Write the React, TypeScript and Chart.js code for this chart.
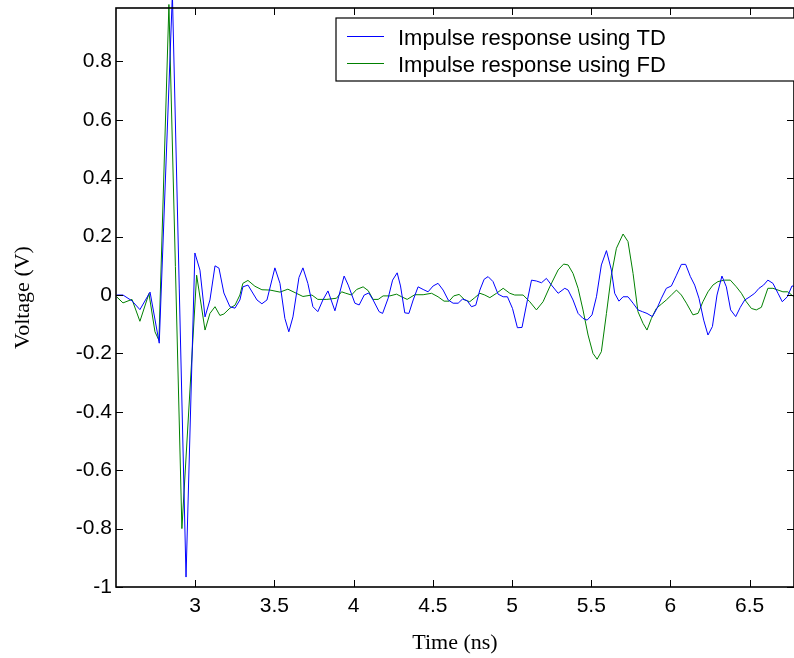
import React, { useEffect, useRef } from 'react';
import { Chart, registerables } from 'chart.js';

Chart.register(...registerables);

// ---- Data ----
const tdTime = [
  2.504, 2.544, 2.601, 2.651, 2.715, 2.773, 2.856, 2.942, 2.998, 3.030,
  3.062, 3.093, 3.125, 3.150, 3.181, 3.219, 3.251, 3.282, 3.301, 3.333,
  3.390, 3.421, 3.453, 3.503, 3.535, 3.566, 3.591, 3.617, 3.655, 3.680,
  3.711, 3.743, 3.774, 3.806, 3.838, 3.882, 3.940, 3.966, 4.008, 4.035,
  4.067, 4.096, 4.123, 4.161, 4.183, 4.218, 4.246, 4.275, 4.296, 4.323,
  4.349, 4.376, 4.407, 4.439, 4.470, 4.502, 4.533, 4.565, 4.597, 4.628,
  4.660, 4.687, 4.716, 4.744, 4.771, 4.797, 4.824, 4.849, 4.880, 4.912,
  4.944, 4.971, 5.003, 5.034, 5.063, 5.091, 5.123, 5.154, 5.186, 5.217,
  5.249, 5.291, 5.333, 5.354, 5.385, 5.417, 5.448, 5.474, 5.505, 5.533,
  5.564, 5.596, 5.627, 5.648, 5.675, 5.701, 5.732, 5.764, 5.795, 5.823,
  5.852, 5.886, 5.915, 5.943, 5.974, 6.006, 6.038, 6.069, 6.096, 6.126,
  6.153, 6.180, 6.210, 6.237, 6.265, 6.294, 6.325, 6.353, 6.380, 6.412,
  6.441, 6.469, 6.496, 6.532, 6.559, 6.588, 6.615, 6.647, 6.679, 6.706,
  6.738, 6.767, 6.779,
];
const tdVolt = [
  0.0, 0.0, -0.02, -0.05, 0.01, -0.165, 1.03, -0.966, 0.144, 0.085,
  -0.075, -0.017, 0.1, 0.092, 0.007, -0.04, -0.045, -0.017, 0.028, 0.034,
  -0.017, -0.03, -0.017, 0.093, 0.04, -0.08, -0.126, -0.075, 0.06, 0.093,
  0.04, -0.04, -0.057, -0.017, 0.014, -0.054, 0.065, 0.034, -0.028, -0.034,
  0.0, 0.007, -0.017, -0.057, -0.063, -0.011, 0.051, 0.076, 0.031, -0.061,
  -0.063, -0.017, 0.028, 0.019, 0.011, 0.031, 0.04, 0.017, -0.017, -0.028,
  -0.028, -0.014, -0.019, -0.04, -0.035, 0.017, 0.054, 0.063, 0.046, 0.003,
  -0.006, -0.006, -0.046, -0.112, -0.111, -0.034, 0.051, 0.048, 0.042, 0.057,
  0.034, 0.006, 0.023, 0.017, -0.017, -0.063, -0.08, -0.086, -0.068, -0.006,
  0.103, 0.152, 0.086, 0.006, -0.021, -0.006, -0.006, -0.028, -0.051, -0.057,
  -0.063, -0.074, -0.046, -0.011, 0.023, 0.031, 0.068, 0.105, 0.105, 0.063,
  0.034, -0.011, -0.086, -0.137, -0.108, 0.0, 0.065, 0.028, -0.051, -0.074,
  -0.042, -0.017, -0.008, 0.006, 0.023, 0.034, 0.051, 0.04, 0.006, -0.023,
  -0.006, 0.031, 0.03,
];

const fdTime = [
  2.504, 2.544, 2.601, 2.651, 2.708, 2.746, 2.771, 2.834, 2.916, 3.009,
  3.062, 3.093, 3.125, 3.156, 3.181, 3.219, 3.251, 3.282, 3.301, 3.333,
  3.377, 3.421, 3.472, 3.535, 3.585, 3.642, 3.680, 3.737, 3.774, 3.831,
  3.892, 3.924, 3.951, 3.987, 4.019, 4.060, 4.092, 4.123, 4.155, 4.186,
  4.229, 4.271, 4.303, 4.338, 4.386, 4.439, 4.492, 4.533, 4.571, 4.603,
  4.632, 4.666, 4.702, 4.733, 4.765, 4.797, 4.828, 4.860, 4.902, 4.944,
  4.986, 5.017, 5.070, 5.112, 5.154, 5.196, 5.238, 5.291, 5.326, 5.354,
  5.385, 5.417, 5.448, 5.480, 5.511, 5.537, 5.564, 5.596, 5.627, 5.659,
  5.701, 5.732, 5.764, 5.795, 5.827, 5.852, 5.880, 5.911, 5.943, 5.974,
  6.006, 6.038, 6.069, 6.101, 6.142, 6.174, 6.205, 6.237, 6.268, 6.300,
  6.342, 6.378, 6.416, 6.448, 6.479, 6.511, 6.542, 6.574, 6.615, 6.647,
  6.679, 6.710, 6.741, 6.779,
];
const fdVolt = [
  -0.006, -0.027, -0.015, -0.09, 0.005, -0.126, -0.155, 0.995, -0.8, 0.068,
  -0.12, -0.063, -0.04, -0.07, -0.065, -0.045, -0.035, 0.0, 0.04, 0.05,
  0.03, 0.018, 0.017, 0.01, 0.02, 0.005, -0.005, 0.0, -0.015, -0.015,
  -0.011, 0.011, 0.006, 0.0, 0.019, 0.028, 0.015, -0.015, -0.015, -0.003,
  -0.003, 0.003, -0.006, -0.015, 0.001, 0.001, 0.006, -0.006, -0.021, -0.021,
  -0.003, 0.002, -0.017, -0.023, -0.009, 0.006, 0.0, -0.009, 0.006, 0.023,
  0.006, 0.0, 0.0, -0.023, -0.051, -0.023, 0.028, 0.086, 0.106, 0.103,
  0.074, 0.023, -0.051, -0.137, -0.2, -0.22, -0.194, -0.063, 0.068, 0.16,
  0.209, 0.183, 0.074, -0.057, -0.097, -0.12, -0.08, -0.046, -0.031, -0.017,
  0.0, 0.017, 0.0, -0.028, -0.068, -0.063, -0.023, 0.011, 0.034, 0.046,
  0.051, 0.051, 0.028, 0.006, -0.023, -0.046, -0.051, -0.042, 0.023, 0.023,
  0.017, 0.011, 0.011, -0.006,
];

const seriesLabels = ['Impulse response using TD', 'Impulse response using FD'];
const seriesColors = ['#0000ff', '#008000'];
const xTicks = [3, 3.5, 4, 4.5, 5, 5.5, 6, 6.5];
const yTicks = [-1, -0.8, -0.6, -0.4, -0.2, 0, 0.2, 0.4, 0.6, 0.8];
const xRange = [2.5, 6.78];
const yRange = [-1, 0.983];
const xTitle = 'Time (ns)';
const yTitle = 'Voltage (V)';

const SANS = "'Liberation Sans', Arial, Helvetica, sans-serif";
const SERIF = "'Liberation Serif', 'Times New Roman', serif";

const matlabFrame = {
  id: 'matlabFrame',
  afterDatasetsDraw(chart: any) {
    const { ctx, chartArea } = chart;
    const { left, right, top, bottom } = chartArea;
    const xs = chart.scales.x;
    const ys = chart.scales.y;
    const TICK = 7;
    ctx.save();
    ctx.strokeStyle = '#000';
    ctx.lineWidth = 1;
    const line = (x1: number, y1: number, x2: number, y2: number) => {
      ctx.beginPath();
      ctx.moveTo(x1, y1);
      ctx.lineTo(x2, y2);
      ctx.stroke();
    };
    for (const v of xTicks) {
      const px = Math.round(xs.getPixelForValue(v)) + 0.5;
      line(px, bottom, px, bottom - TICK);
      line(px, top, px, top + TICK);
    }
    for (const v of yTicks) {
      const py = Math.round(ys.getPixelForValue(v)) + 0.5;
      line(left, py, left + TICK, py);
      line(right, py, right - TICK, py);
    }
    ctx.lineWidth = 1.6;
    ctx.strokeRect(left, top, right - left, bottom - top);

    // Legend box (MATLAB style)
    const bx = left + 220;
    const by = top + 10;
    const bw = 500;
    const bh = 63;
    ctx.fillStyle = '#fff';
    ctx.fillRect(bx, by, bw, bh);
    ctx.lineWidth = 1.2;
    ctx.strokeRect(bx, by, bw, bh);
    ctx.font = `22px ${SANS}`;
    ctx.textBaseline = 'alphabetic';
    ctx.textAlign = 'left';
    chart.data.datasets.forEach((ds: any, i: number) => {
      const base = by + 27 + i * 27;
      const ly = base - 8.5;
      ctx.strokeStyle = ds.borderColor;
      ctx.lineWidth = 1;
      line(bx + 11, ly, bx + 48, ly);
      ctx.fillStyle = '#000';
      ctx.fillText(ds.label, bx + 62, base);
    });
    ctx.restore();
  },
};

export default function App() {
  const canvasRef = useRef<HTMLCanvasElement | null>(null);

  useEffect(() => {
    if (!canvasRef.current) return;
    const mk = (t: number[], v: number[]) => t.map((x, i) => ({ x, y: v[i] }));
    const chart = new Chart(canvasRef.current, {
      type: 'line',
      data: {
        datasets: [
          {
            label: seriesLabels[0],
            data: mk(tdTime, tdVolt),
            borderColor: seriesColors[0],
            backgroundColor: seriesColors[0],
            borderWidth: 1,
            pointRadius: 0,
            tension: 0,
            clip: false as any,
          },
          {
            label: seriesLabels[1],
            data: mk(fdTime, fdVolt),
            borderColor: seriesColors[1],
            backgroundColor: seriesColors[1],
            borderWidth: 1,
            pointRadius: 0,
            tension: 0,
            clip: false as any,
          },
        ],
      },
      options: {
        animation: false,
        responsive: false,
        devicePixelRatio: 1,
        layout: { padding: { top: 8, right: 0, bottom: 0, left: 0 } },
        plugins: {
          legend: { display: false },
          tooltip: { enabled: false },
        },
        scales: {
          x: {
            type: 'linear',
            min: xRange[0],
            max: xRange[1],
            grid: { display: false, drawTicks: false },
            border: { display: false },
            afterBuildTicks: (scale: any) => {
              scale.ticks = xTicks.map((value) => ({ value }));
            },
            afterFit: (scale: any) => {
              scale.height = 71;
              scale.paddingLeft = 0;
              scale.paddingRight = 0;
            },
            ticks: {
              color: '#000',
              font: { family: SANS, size: 21 },
              padding: 7,
              maxRotation: 0,
              autoSkip: false,
              callback: (v: any) => String(v),
            },
            title: {
              display: true,
              text: xTitle,
              color: '#000',
              font: { family: SERIF, size: 22 },
              padding: { top: 0, bottom: 2 },
            },
          },
          y: {
            type: 'linear',
            min: yRange[0],
            max: yRange[1],
            grid: { display: false, drawTicks: false },
            border: { display: false },
            afterBuildTicks: (scale: any) => {
              scale.ticks = yTicks.map((value) => ({ value }));
            },
            afterFit: (scale: any) => {
              scale.width = 116;
              scale.paddingTop = 0;
              scale.paddingBottom = 0;
            },
            ticks: {
              color: '#000',
              font: { family: SANS, size: 21 },
              padding: 4,
              autoSkip: false,
              callback: (v: any) => String(v),
            },
            title: {
              display: true,
              text: yTitle,
              color: '#000',
              font: { family: SERIF, size: 22 },
              padding: { top: 10, bottom: 0 },
            },
          },
        },
      },
      plugins: [matlabFrame],
    } as any);
    return () => chart.destroy();
  }, []);

  return (
    <div
      style={{
        position: 'fixed',
        left: 0,
        top: 0,
        width: 794,
        height: 658,
        overflow: 'hidden',
        background: '#fff',
      }}
    >
      <canvas ref={canvasRef} width={794} height={658} style={{ display: 'block' }} />
    </div>
  );
}
